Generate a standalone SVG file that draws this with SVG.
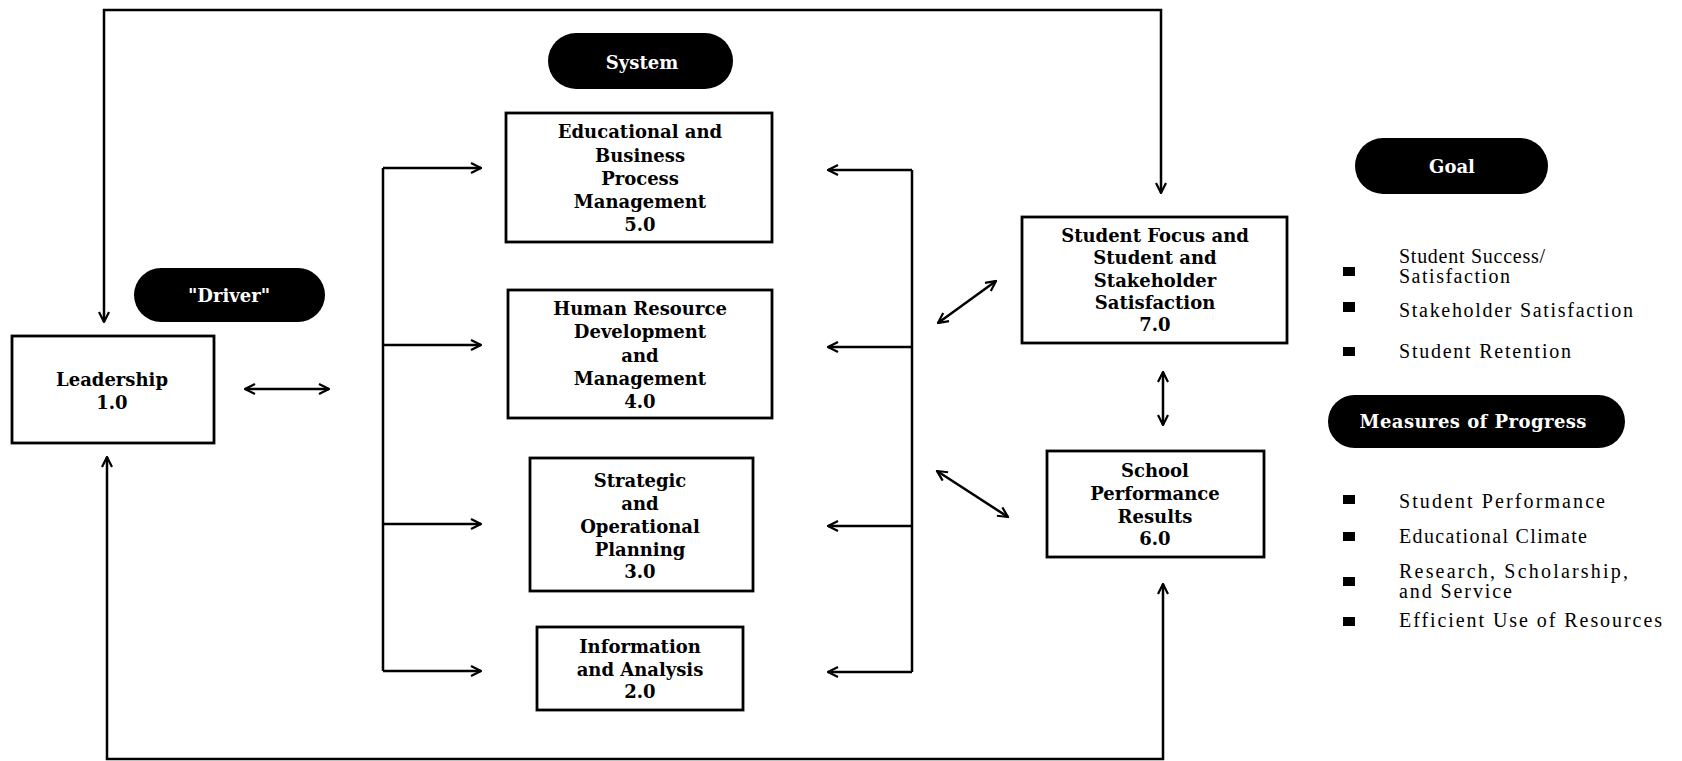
<svg xmlns="http://www.w3.org/2000/svg" width="1682" height="761" viewBox="0 0 1682 761">
<defs>
<marker id="arr" viewBox="0 0 12 12" refX="11" refY="6" markerWidth="12" markerHeight="12" markerUnits="userSpaceOnUse" orient="auto-start-reverse">
<path d="M1,1 L11,6 L1,11" fill="none" stroke="#000" stroke-width="2.2"/>
</marker>
</defs>
<style>
.box{fill:#fff;stroke:#000;stroke-width:2.8}
.pill{fill:#000}
.bt{font-family:"DejaVu Serif","Liberation Serif",serif;font-weight:bold;font-size:18px;text-anchor:middle;fill:#000}
.pt{font-family:"DejaVu Serif","Liberation Serif",serif;font-weight:bold;font-size:18px;text-anchor:middle;fill:#fff}
.lt{font-family:"Liberation Serif","Times New Roman",serif;font-size:20px;fill:#000}
.c{fill:none;stroke:#000;stroke-width:2.5}
.ca{fill:none;stroke:#000;stroke-width:2.5;marker-end:url(#arr)}
.cd{fill:none;stroke:#000;stroke-width:2.5;marker-start:url(#arr);marker-end:url(#arr)}
.bul{fill:#000}
</style>
<rect width="1682" height="761" fill="#fff"/>
<g id="connectors">
<path class="cd" d="M104,322 L104,10 L1161,10 L1161,193"/>
<path class="cd" d="M107,457 L107,759 L1163,759 L1163,584"/>
<path class="cd" d="M245,389 L329,389"/>
<path class="c" d="M383,168 L383,671"/>
<path class="ca" d="M383,168 L481,168"/>
<path class="ca" d="M383,345 L481,345"/>
<path class="ca" d="M383,524 L481,524"/>
<path class="ca" d="M383,671 L481,671"/>
<path class="c" d="M912,170 L912,672"/>
<path class="ca" d="M912,170 L828,170"/>
<path class="ca" d="M912,347 L828,347"/>
<path class="ca" d="M912,526 L828,526"/>
<path class="ca" d="M912,672 L828,672"/>
<path class="cd" d="M938,323 L996,281"/>
<path class="cd" d="M937,471 L1008,517"/>
<path class="cd" d="M1163,372 L1163,425"/>
</g>
<g id="driver">
<rect class="pill" x="134" y="268" width="191" height="54" rx="27"/>
<text class="pt" x="229" y="302">"Driver"</text>
</g>
<g id="leadership">
<rect class="box" x="12" y="336" width="202" height="107"/>
<text class="bt" x="112" y="386">Leadership</text>
<text class="bt" x="112" y="409">1.0</text>
</g>
<g id="system">
<rect class="pill" x="548" y="33" width="185" height="56" rx="28"/>
<text class="pt" x="642" y="69">System</text>
</g>
<g id="n5">
<rect class="box" x="506" y="113" width="266" height="129"/>
<text class="bt" x="640" y="138">Educational and</text>
<text class="bt" x="640" y="162">Business</text>
<text class="bt" x="640" y="185">Process</text>
<text class="bt" x="640" y="208">Management</text>
<text class="bt" x="640" y="231">5.0</text>
</g>
<g id="n4">
<rect class="box" x="508" y="290" width="264" height="128"/>
<text class="bt" x="640" y="315">Human Resource</text>
<text class="bt" x="640" y="338">Development</text>
<text class="bt" x="640" y="362">and</text>
<text class="bt" x="640" y="385">Management</text>
<text class="bt" x="640" y="408">4.0</text>
</g>
<g id="n3">
<rect class="box" x="530" y="458" width="223" height="133"/>
<text class="bt" x="640" y="487">Strategic</text>
<text class="bt" x="640" y="510">and</text>
<text class="bt" x="640" y="533">Operational</text>
<text class="bt" x="640" y="556">Planning</text>
<text class="bt" x="640" y="578">3.0</text>
</g>
<g id="n2">
<rect class="box" x="537" y="627" width="206" height="83"/>
<text class="bt" x="640" y="653">Information</text>
<text class="bt" x="640" y="676">and Analysis</text>
<text class="bt" x="640" y="698">2.0</text>
</g>
<g id="n7">
<rect class="box" x="1022" y="217" width="265" height="126"/>
<text class="bt" x="1155" y="242">Student Focus and</text>
<text class="bt" x="1155" y="264">Student and</text>
<text class="bt" x="1155" y="287">Stakeholder</text>
<text class="bt" x="1155" y="309">Satisfaction</text>
<text class="bt" x="1155" y="331">7.0</text>
</g>
<g id="n6">
<rect class="box" x="1047" y="451" width="217" height="106"/>
<text class="bt" x="1155" y="477">School</text>
<text class="bt" x="1155" y="500">Performance</text>
<text class="bt" x="1155" y="523">Results</text>
<text class="bt" x="1155" y="545">6.0</text>
</g>
<g id="goal">
<rect class="pill" x="1355" y="138" width="193" height="56" rx="28"/>
<text class="pt" x="1452" y="173">Goal</text>
</g>
<g id="goal-list">
<rect class="bul" x="1343" y="267" width="12" height="9"/>
<rect class="bul" x="1343" y="302" width="12" height="10"/>
<rect class="bul" x="1343" y="347" width="12" height="9"/>
<text class="lt" x="1399" y="263" textLength="146" lengthAdjust="spacing">Student Success/</text>
<text class="lt" x="1399" y="283" textLength="111" lengthAdjust="spacing">Satisfaction</text>
<text class="lt" x="1399" y="317" textLength="234" lengthAdjust="spacing">Stakeholder Satisfaction</text>
<text class="lt" x="1399" y="358" textLength="172" lengthAdjust="spacing">Student Retention</text>
</g>
<g id="measures">
<rect class="pill" x="1328" y="395" width="297" height="53" rx="26.5"/>
<text class="pt" x="1473" y="428" textLength="227" lengthAdjust="spacing">Measures of Progress</text>
</g>
<g id="measures-list">
<rect class="bul" x="1343" y="495" width="12" height="9"/>
<rect class="bul" x="1343" y="532" width="12" height="9"/>
<rect class="bul" x="1343" y="577" width="12" height="9"/>
<rect class="bul" x="1343" y="617" width="12" height="9"/>
<text class="lt" x="1399" y="508" textLength="206" lengthAdjust="spacing">Student Performance</text>
<text class="lt" x="1399" y="543" textLength="188" lengthAdjust="spacing">Educational Climate</text>
<text class="lt" x="1399" y="578" textLength="229" lengthAdjust="spacing">Research, Scholarship,</text>
<text class="lt" x="1399" y="598" textLength="113" lengthAdjust="spacing">and Service</text>
<text class="lt" x="1399" y="627" textLength="263" lengthAdjust="spacing">Efficient Use of Resources</text>
</g>
</svg>
